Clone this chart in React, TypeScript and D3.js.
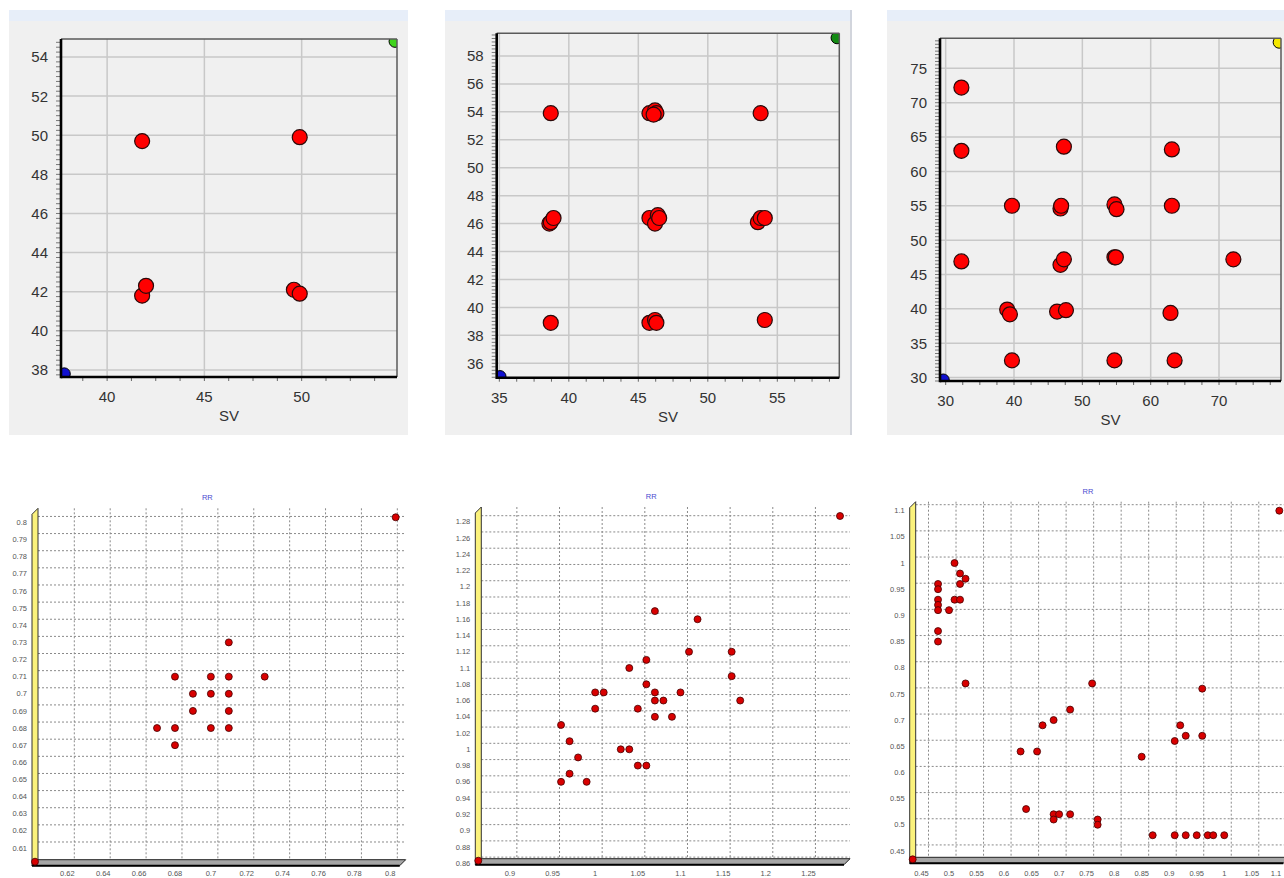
import React from 'react';
import * as d3 from 'd3';

// ---- top row: SV scatter (SV[n] vs SV[n+1]) ----
const svLeftPoints: [number, number][] = [
  [41.8, 49.7], [49.9, 49.9], [41.8, 41.8], [42.0, 42.3], [49.6, 42.1], [49.9, 41.9],
];
const svLeftRange = [37.8, 54.8];
const svLeftDomX = [37.63, 54.9];
const svLeftDomY = [37.64, 54.92];
const svLeftXTicks = [40, 45, 50];
const svLeftYTicks = [38, 40, 42, 44, 46, 48, 50, 52, 54];

const svMidPoints: [number, number][] = [
  [38.7, 53.9], [45.8, 53.9], [46.2, 54.1], [46.3, 53.9], [46.1, 53.8], [53.8, 53.9],
  [38.6, 46.0], [38.7, 46.1], [38.9, 46.4],
  [45.8, 46.4], [46.2, 46.0], [46.4, 46.6], [46.5, 46.4],
  [53.6, 46.1], [53.8, 46.4], [54.1, 46.4],
  [38.7, 38.9], [45.8, 38.9], [46.2, 39.1], [46.3, 38.9], [54.1, 39.1],
];
const svMidRange = [35.05, 59.3];
const svMidDomX = [34.81, 59.46];
const svMidDomY = [34.97, 59.62];
const svMidXTicks = [35, 40, 45, 50, 55];
const svMidYTicks = [36, 38, 40, 42, 44, 46, 48, 50, 52, 54, 56, 58];

const svRightPoints: [number, number][] = [
  [32.3, 72.2], [32.3, 63.0], [47.3, 63.6], [63.1, 63.2],
  [39.7, 55.0], [46.8, 54.6], [46.9, 55.0], [54.7, 55.2], [55.0, 54.5], [63.1, 55.0],
  [32.3, 46.9], [46.8, 46.4], [47.3, 47.2], [54.7, 47.5], [54.9, 47.5], [72.1, 47.2],
  [39.0, 39.9], [39.4, 39.2], [46.3, 39.6], [47.6, 39.8], [62.9, 39.4],
  [39.7, 32.5], [54.7, 32.5], [63.5, 32.5],
];
const svRightRange = [29.65, 78.8];
const svRightDomX = [29.17, 79.07];
const svRightDomY = [29.5, 79.37];
const svRightXTicks = [30, 40, 50, 60, 70];
const svRightYTicks = [30, 35, 40, 45, 50, 55, 60, 65, 70, 75];

// ---- bottom row: RR scatter ----
const rrLeftPoints: [number, number][] = [
  [0.602, 0.602], [0.803, 0.803],
  [0.71, 0.73], [0.68, 0.71], [0.70, 0.71], [0.71, 0.71], [0.73, 0.71],
  [0.69, 0.70], [0.70, 0.70], [0.71, 0.70], [0.69, 0.69], [0.71, 0.69],
  [0.67, 0.68], [0.68, 0.68], [0.70, 0.68], [0.71, 0.68], [0.68, 0.67],
];
const rrLeftXTicks = [0.62, 0.64, 0.66, 0.68, 0.7, 0.72, 0.74, 0.76, 0.78, 0.8];
const rrLeftYTicks = [0.61, 0.62, 0.63, 0.64, 0.65, 0.66, 0.67, 0.68, 0.69, 0.7,
  0.71, 0.72, 0.73, 0.74, 0.75, 0.76, 0.77, 0.78, 0.79, 0.8];

const rrMidPoints: [number, number][] = [
  [0.863, 0.863], [1.287, 1.287],
  [1.07, 1.17], [1.12, 1.16], [1.11, 1.12], [1.16, 1.12], [1.06, 1.11], [1.04, 1.10],
  [1.16, 1.09], [1.06, 1.08], [1.0, 1.07], [1.01, 1.07], [1.07, 1.07], [1.10, 1.07],
  [1.07, 1.06], [1.08, 1.06], [1.17, 1.06], [1.0, 1.05], [1.05, 1.05], [1.07, 1.04],
  [1.09, 1.04], [0.96, 1.03], [0.97, 1.01], [1.03, 1.0], [1.04, 1.0], [0.98, 0.99],
  [1.05, 0.98], [1.06, 0.98], [0.97, 0.97], [0.96, 0.96], [0.99, 0.96],
];
const rrMidXTicks = [0.9, 0.95, 1, 1.05, 1.1, 1.15, 1.2, 1.25];
const rrMidYTicks = [0.86, 0.88, 0.9, 0.92, 0.94, 0.96, 0.98, 1, 1.02, 1.04, 1.06,
  1.08, 1.1, 1.12, 1.14, 1.16, 1.18, 1.2, 1.22, 1.24, 1.26, 1.28];

const rrRightPoints: [number, number][] = [
  [0.434, 0.434], [1.1, 1.1],
  [0.48, 0.96], [0.48, 0.95], [0.48, 0.93], [0.48, 0.92], [0.48, 0.91], [0.48, 0.87],
  [0.48, 0.85], [0.50, 0.91], [0.51, 1.0], [0.51, 0.93], [0.52, 0.98], [0.52, 0.96],
  [0.52, 0.93], [0.53, 0.97], [0.53, 0.77],
  [0.63, 0.64], [0.66, 0.64], [0.67, 0.69], [0.69, 0.70], [0.72, 0.72], [0.76, 0.77],
  [0.64, 0.53], [0.69, 0.52], [0.69, 0.51], [0.70, 0.52], [0.72, 0.52], [0.77, 0.51],
  [0.77, 0.50], [0.85, 0.63],
  [0.87, 0.48], [0.91, 0.48], [0.93, 0.48], [0.95, 0.48], [0.97, 0.48], [0.98, 0.48],
  [1.0, 0.48],
  [0.91, 0.66], [0.92, 0.69], [0.93, 0.67], [0.96, 0.67], [0.96, 0.76],
];
const rrRightXTicks = [0.45, 0.5, 0.55, 0.6, 0.65, 0.7, 0.75, 0.8, 0.85, 0.9, 0.95, 1, 1.05, 1.1];
const rrRightYTicks = [0.45, 0.5, 0.55, 0.6, 0.65, 0.7, 0.75, 0.8, 0.85, 0.9, 0.95, 1, 1.05, 1.1];

const FONT = '"Liberation Sans", Arial, sans-serif';

type Box = { left: number; right: number; top: number; bottom: number };

function SVPanel({ id, frame, plot, domX, domY, xTicks, yTicks, xMinor, yMinor,
  points, range, maxColor, edgeLine }: any) {
  const x = d3.scaleLinear().domain(domX).range([plot.left, plot.right]);
  const y = d3.scaleLinear().domain(domY).range([plot.bottom, plot.top]);
  const xm = d3.range(Math.ceil(domX[0] / xMinor) * xMinor, domX[1], xMinor);
  const ym = d3.range(Math.ceil(domY[0] / yMinor) * yMinor, domY[1], yMinor);
  return (
    <g>
      <rect x={frame.left} y={frame.top} width={frame.right - frame.left}
        height={frame.bottom - frame.top} fill="#f0f0f0" />
      <rect x={frame.left} y={frame.top} width={frame.right - frame.left} height={11} fill="#e7eef9" />
      {edgeLine && <line x1={frame.right - 1} x2={frame.right - 1} y1={frame.top} y2={frame.bottom}
        stroke="#c9cdd6" strokeWidth={1.5} />}
      <clipPath id={id}>
        <rect x={plot.left} y={plot.top} width={plot.right - plot.left} height={plot.bottom - plot.top} />
      </clipPath>
      {xTicks.map((t: number) => (
        <line key={'gx' + t} x1={x(t)} x2={x(t)} y1={plot.top} y2={plot.bottom}
          stroke="#c8c8c8" strokeWidth={1.5} />
      ))}
      {yTicks.map((t: number) => (
        <line key={'gy' + t} x1={plot.left} x2={plot.right} y1={y(t)} y2={y(t)}
          stroke="#c8c8c8" strokeWidth={1.5} />
      ))}
      {xm.map((t) => (
        <line key={'mx' + t} x1={x(t)} x2={x(t)} y1={plot.bottom + 1} y2={plot.bottom + 4}
          stroke="#666" strokeWidth={1} />
      ))}
      {ym.map((t) => (
        <line key={'my' + t} x1={plot.left - 5} x2={plot.left - 1} y1={y(t)} y2={y(t)}
          stroke="#777" strokeWidth={1} />
      ))}
      <g clipPath={`url(#${id})`}>
        <circle cx={x(range[0])} cy={y(range[0])} r={6} fill="#1010d0" stroke="#000" />
        <circle cx={x(range[1])} cy={y(range[1])} r={6} fill={maxColor} stroke="#000" />
      </g>
      {points.map((p: [number, number], i: number) => (
        <circle key={i} cx={x(p[0])} cy={y(p[1])} r={7.5} fill="#ff0000" stroke="#2a0a0a" strokeWidth={1.2} />
      ))}
      <line x1={plot.left} x2={plot.right} y1={plot.top} y2={plot.top} stroke="#5a5a5a" strokeWidth={1.5} />
      <line x1={plot.right} x2={plot.right} y1={plot.top} y2={plot.bottom} stroke="#5a5a5a" strokeWidth={1.5} />
      <line x1={plot.left} x2={plot.left} y1={plot.top} y2={plot.bottom + 1.3} stroke="#000" strokeWidth={2.6} />
      <line x1={plot.left} x2={plot.right} y1={plot.bottom} y2={plot.bottom} stroke="#000" strokeWidth={2.6} />
      {yTicks.map((t: number) => (
        <text key={'ly' + t} x={plot.left - 13} y={y(t)} dy="0.36em" textAnchor="end"
          fontFamily={FONT} fontSize={15} fill="#333">{String(t)}</text>
      ))}
      {xTicks.map((t: number) => (
        <text key={'lx' + t} x={x(t)} y={plot.bottom + 25} textAnchor="middle"
          fontFamily={FONT} fontSize={15} fill="#333">{String(t)}</text>
      ))}
      <text x={(plot.left + plot.right) / 2} y={plot.bottom + 44} textAnchor="middle"
        fontFamily={FONT} fontSize={15} fill="#333">SV</text>
    </g>
  );
}

function RRPanel({ front, points, xTicks, yTicks }: { front: Box; points: [number, number][]; xTicks: number[]; yTicks: number[] }) {
  const dom = d3.extent(points.flat()) as [number, number];
  const x = d3.scaleLinear().domain(dom).range([front.left, front.right]);
  const y = d3.scaleLinear().domain(dom).range([front.bottom, front.top]);
  const dx = 7, dy = -6;
  const L = front.left, B = front.bottom, T = front.top;
  const backL = L + 3, backR = front.right + 10, backT = T - 9, backB = B - 2;
  return (
    <g>
      {xTicks.map((t) => (
        <line key={'gx' + t} x1={x(t) + dx} x2={x(t) + dx} y1={backT} y2={backB}
          stroke="#8a8a8a" strokeWidth={1} strokeDasharray="2 2" />
      ))}
      {yTicks.map((t) => (
        <line key={'gy' + t} x1={backL} x2={backR} y1={y(t) + dy} y2={y(t) + dy}
          stroke="#8a8a8a" strokeWidth={1} strokeDasharray="2 2" />
      ))}
      <polygon points={`${L - 3},${B + 4} ${L - 3},${T - 3} ${L + 3},${T - 9} ${L + 3},${B - 2}`}
        fill="#fbf27c" stroke="#333" strokeWidth={1} />
      <polygon points={`${L - 3},${B + 4} ${backR - 6},${B + 4} ${backR},${B - 2} ${L + 3},${B - 2}`}
        fill="#a6a6a6" stroke="#222" strokeWidth={1} />
      <line x1={L - 3} x2={backR - 6} y1={B + 4} y2={B + 4} stroke="#000" strokeWidth={2} />
      <text x={(L + front.right) / 2 - 8} y={T - 17} textAnchor="middle"
        fontFamily={FONT} fontSize={7.5} fill="#4a4ad0">RR</text>
      {yTicks.map((t) => (
        <text key={'ly' + t} x={L - 8} y={y(t)} dy="0.35em" textAnchor="end"
          fontFamily={FONT} fontSize={7.5} fill="#555">{String(t)}</text>
      ))}
      {xTicks.map((t) => (
        <text key={'lx' + t} x={Math.min(x(t), 1276)} y={876} textAnchor="middle"
          fontFamily={FONT} fontSize={7.5} fill="#555">{String(t)}</text>
      ))}
      {points.map((p, i) => (
        <circle key={i} cx={x(p[0])} cy={y(p[1])} r={3.5} fill="#d80000" stroke="#400" strokeWidth={0.8} />
      ))}
    </g>
  );
}

export default function App() {
  return (
    <svg width={1284} height={878} style={{ position: 'absolute', left: 0, top: 0, background: '#fff' }}>
      <SVPanel id="c1" frame={{ left: 9, right: 408, top: 10, bottom: 435 }}
        plot={{ left: 61, right: 397, top: 39, bottom: 377 }}
        domX={svLeftDomX} domY={svLeftDomY} xTicks={svLeftXTicks} yTicks={svLeftYTicks}
        xMinor={1.25} yMinor={0.25} points={svLeftPoints} range={svLeftRange} maxColor="#3fd41c" />
      <SVPanel id="c2" frame={{ left: 445, right: 852, top: 10, bottom: 435 }}
        plot={{ left: 496.7, right: 839.3, top: 33.3, bottom: 377.7 }}
        domX={svMidDomX} domY={svMidDomY} xTicks={svMidXTicks} yTicks={svMidYTicks}
        xMinor={1.25} yMinor={0.25} points={svMidPoints} range={svMidRange} maxColor="#128a12" edgeLine />
      <SVPanel id="c3" frame={{ left: 887, right: 1284, top: 10, bottom: 435 }}
        plot={{ left: 940, right: 1281, top: 38.3, bottom: 381 }}
        domX={svRightDomX} domY={svRightDomY} xTicks={svRightXTicks} yTicks={svRightYTicks}
        xMinor={2.5} yMinor={0.5} points={svRightPoints} range={svRightRange} maxColor="#f4e800" />
      <RRPanel front={{ left: 35, right: 395.7, top: 517.3, bottom: 861.7 }}
        points={rrLeftPoints} xTicks={rrLeftXTicks} yTicks={rrLeftYTicks} />
      <RRPanel front={{ left: 478.3, right: 840, top: 516, bottom: 860.7 }}
        points={rrMidPoints} xTicks={rrMidXTicks} yTicks={rrMidYTicks} />
      <RRPanel front={{ left: 912.7, right: 1279.3, top: 510.7, bottom: 859.3 }}
        points={rrRightPoints} xTicks={rrRightXTicks} yTicks={rrRightYTicks} />
    </svg>
  );
}
